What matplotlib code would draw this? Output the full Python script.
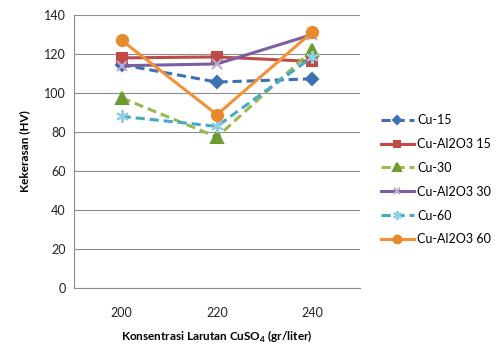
import matplotlib
matplotlib.use("Agg")
import matplotlib.pyplot as plt

# konsentrasi CuSO4 (gr/liter)
categories = ["200", "220", "240"]

cu_15 = [114.5, 105.6, 107.3]
cu_al2o3_15 = [118.0, 118.5, 116.2]
cu_30 = [97.5, 77.4, 122.0]
cu_al2o3_30 = [114.0, 114.9, 130.0]
cu_60 = [88.0, 82.9, 118.5]
cu_al2o3_60 = [127.0, 88.9, 131.3]

series_names = ["Cu-15", "Cu-Al2O3 15", "Cu-30", "Cu-Al2O3 30", "Cu-60", "Cu-Al2O3 60"]
yticks = [0, 20, 40, 60, 80, 100, 120, 140]

plt.rcParams["font.family"] = ["Lato", "DejaVu Sans"]
plt.rcParams["mathtext.fontset"] = "custom"
plt.rcParams["mathtext.rm"] = "Lato:bold"
plt.rcParams["mathtext.bf"] = "Lato:bold"

fig = plt.figure(figsize=(5.01, 3.44), dpi=100)
ax = fig.add_axes([74 / 501, 1 - 288 / 344, 286 / 501, 273 / 344])

x = list(range(len(categories)))
styles = [
    (cu_15, "#3C72B4", "--", "D", 6, "#3C72B4"),
    (cu_al2o3_15, "#BE4B48", "-", "s", 7, "#BE4B48"),
    (cu_30, "#98B954", "--", "^", 8, "#6E9A30"),
    (cu_al2o3_30, "#7D5FA0", "-", "x", 7, "#B8A9D0"),
    (cu_60, "#46AAC5", "--", (6, 2, 0), 9, "#8FD0E2"),
    (cu_al2o3_60, "#F39136", "-", "o", 8, "#E88A2B"),
]
for (vals, col, ls, mk, ms, mc), name in zip(styles, series_names):
    ax.plot(x, vals, color=col, linestyle=ls, linewidth=2.2, dashes=(3, 1.6) if ls == "--" else (None, None),
            marker=mk, markersize=ms, markerfacecolor=mc, markeredgecolor=mc, markeredgewidth=1.5, label=name)

ax.set_xlim(-0.5, len(categories) - 0.5)
ax.set_ylim(0, 140)
ax.set_yticks(yticks)
ax.set_xticks(x)
ax.set_xticklabels(categories)
ax.grid(axis="y", color="#8C8C8C", linewidth=0.8)
ax.set_axisbelow(True)
for s in ["top", "right"]:
    ax.spines[s].set_visible(False)
for s in ["left", "bottom"]:
    ax.spines[s].set_color("#8C8C8C")
ax.tick_params(length=0, labelsize=9, colors="#222222", pad=6)
ax.tick_params(axis="x", pad=14)

ax.set_ylabel("Kekerasan (HV)", fontsize=8.5, fontweight="bold", labelpad=10)
ax.set_xlabel("Konsentrasi Larutan CuSO$_4$ (gr/liter)", fontsize=8.5, fontweight="bold", labelpad=7)

ax.legend(loc="upper left", bbox_to_anchor=(376 / 501, 1 - 109 / 344), bbox_transform=fig.transFigure,
          frameon=False, fontsize=9, handlelength=2.6, labelspacing=0.95, handletextpad=0.3,
          markerscale=0.7, borderaxespad=0)

fig.savefig("out.png", dpi=100)
